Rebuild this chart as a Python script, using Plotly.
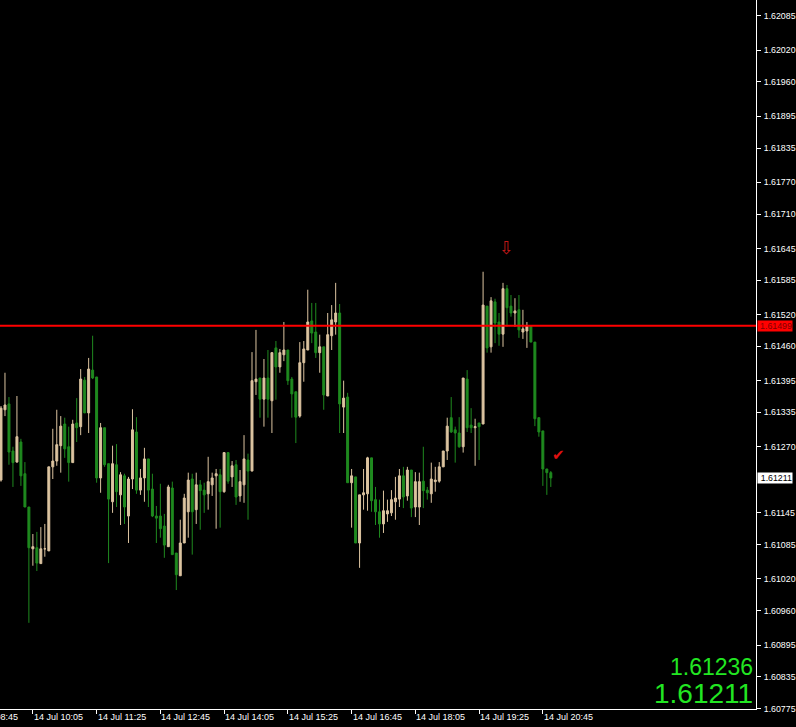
import plotly.graph_objects as go
import pandas as pd

# ---- data (GBPUSD-like M5 bars, 14 Jul) ----
start_time = "2011-07-14 09:25"
opens = [1.61207, 1.61340, 1.61351, 1.61262, 1.61241, 1.61279, 1.61219, 1.61156, 1.61077, 1.61079,
         1.61049, 1.61077, 1.61073, 1.61232, 1.61243, 1.61272, 1.61313, 1.61270, 1.61240, 1.61315,
         1.61308, 1.61396, 1.61334, 1.61415, 1.61402, 1.61211, 1.61306, 1.61238, 1.61166, 1.61236,
         1.61179, 1.61215, 1.61139, 1.61209, 1.61298, 1.61188, 1.61211, 1.61247, 1.61190, 1.61139,
         1.61139, 1.61120, 1.61081, 1.61192, 1.61069, 1.61026, 1.61088, 1.61147, 1.61209, 1.61151,
         1.61198, 1.61188, 1.61181, 1.61198, 1.61215, 1.61217, 1.61185, 1.61259, 1.61213, 1.61236,
         1.61177, 1.61198, 1.61245, 1.61224, 1.61393, 1.61400, 1.61360, 1.61400, 1.61357, 1.61457,
         1.61421, 1.61444, 1.61453, 1.61398, 1.61374, 1.61328, 1.61429, 1.61453, 1.61508, 1.61487,
         1.61448, 1.61459, 1.61366, 1.61480, 1.61506, 1.61523, 1.61345, 1.61364, 1.61202, 1.61213,
         1.61088, 1.61179, 1.61181, 1.61249, 1.61170, 1.61147, 1.61124, 1.61143, 1.61145, 1.61166,
         1.61171, 1.61215, 1.61177, 1.61226, 1.61156, 1.61156, 1.61205, 1.61188, 1.61181, 1.61204,
         1.61205, 1.61232, 1.61262, 1.61325, 1.61302, 1.61296, 1.61270, 1.61398, 1.61311, 1.61306,
         1.61315, 1.61313, 1.61536, 1.61459, 1.61544, 1.61506, 1.61483, 1.61569, 1.61536, 1.61523,
         1.61529, 1.61487, 1.61489, 1.61499, 1.61468, 1.61325, 1.61300, 1.61228, 1.61221]
highs = [1.61347, 1.61410, 1.61364, 1.61270, 1.61366, 1.61285, 1.61241, 1.61156, 1.61105, 1.61109,
         1.61118, 1.61124, 1.61232, 1.61304, 1.61340, 1.61328, 1.61325, 1.61308, 1.61321, 1.61362,
         1.61417, 1.61402, 1.61438, 1.61480, 1.61402, 1.61315, 1.61306, 1.61238, 1.61272, 1.61275,
         1.61222, 1.61219, 1.61213, 1.61341, 1.61326, 1.61228, 1.61268, 1.61247, 1.61219, 1.61158,
         1.61200, 1.61143, 1.61198, 1.61204, 1.61069, 1.61132, 1.61181, 1.61221, 1.61219, 1.61221,
         1.61207, 1.61202, 1.61251, 1.61221, 1.61228, 1.61228, 1.61259, 1.61259, 1.61243, 1.61245,
         1.61226, 1.61292, 1.61257, 1.61449, 1.61491, 1.61400, 1.61436, 1.61453, 1.61449, 1.61470,
         1.61455, 1.61506, 1.61453, 1.61402, 1.61374, 1.61468, 1.61470, 1.61567, 1.61542, 1.61542,
         1.61482, 1.61459, 1.61523, 1.61538, 1.61580, 1.61540, 1.61395, 1.61372, 1.61228, 1.61213,
         1.61179, 1.61228, 1.61251, 1.61249, 1.61194, 1.61170, 1.61187, 1.61170, 1.61188, 1.61213,
         1.61228, 1.61232, 1.61232, 1.61226, 1.61222, 1.61221, 1.61270, 1.61194, 1.61240, 1.61232,
         1.61241, 1.61262, 1.61325, 1.61364, 1.61308, 1.61326, 1.61400, 1.61415, 1.61343, 1.61323,
         1.61315, 1.61601, 1.61536, 1.61553, 1.61550, 1.61523, 1.61580, 1.61576, 1.61557, 1.61551,
         1.61557, 1.61529, 1.61506, 1.61499, 1.61468, 1.61325, 1.61300, 1.61228, 1.61224]
lows = [1.61204, 1.61328, 1.61236, 1.61194, 1.61240, 1.61196, 1.61156, 1.60937, 1.61045, 1.61035,
        1.61049, 1.61062, 1.61073, 1.61209, 1.61234, 1.61221, 1.61249, 1.61204, 1.61240, 1.61279,
        1.61292, 1.61334, 1.61296, 1.61398, 1.61202, 1.61183, 1.61232, 1.61050, 1.61145, 1.61156,
        1.61122, 1.61124, 1.61088, 1.61190, 1.61181, 1.61179, 1.61166, 1.61156, 1.61137, 1.61088,
        1.61098, 1.61060, 1.61081, 1.61066, 1.60999, 1.61026, 1.61088, 1.61098, 1.61066, 1.61124,
        1.61113, 1.61145, 1.61151, 1.61177, 1.61115, 1.61117, 1.61183, 1.61200, 1.61194, 1.61160,
        1.61166, 1.61164, 1.61132, 1.61224, 1.61368, 1.61325, 1.61308, 1.61325, 1.61296, 1.61359,
        1.61410, 1.61432, 1.61387, 1.61325, 1.61277, 1.61325, 1.61393, 1.61453, 1.61466, 1.61438,
        1.61410, 1.61340, 1.61366, 1.61453, 1.61482, 1.61296, 1.61296, 1.61202, 1.61117, 1.61088,
        1.61041, 1.61151, 1.61149, 1.61147, 1.61122, 1.61098, 1.61107, 1.61128, 1.61139, 1.61132,
        1.61156, 1.61154, 1.61168, 1.61137, 1.61137, 1.61122, 1.61154, 1.61170, 1.61164, 1.61185,
        1.61202, 1.61232, 1.61245, 1.61296, 1.61240, 1.61268, 1.61259, 1.61298, 1.61296, 1.61234,
        1.61245, 1.61313, 1.61448, 1.61448, 1.61466, 1.61461, 1.61459, 1.61497, 1.61516, 1.61497,
        1.61476, 1.61474, 1.61457, 1.61468, 1.61309, 1.61289, 1.61196, 1.61179, 1.61194]
closes = [1.61343, 1.61349, 1.61260, 1.61240, 1.61289, 1.61215, 1.61156, 1.61079, 1.61081, 1.61050,
          1.61077, 1.61077, 1.61232, 1.61243, 1.61274, 1.61309, 1.61266, 1.61240, 1.61313, 1.61306,
          1.61398, 1.61334, 1.61417, 1.61400, 1.61211, 1.61306, 1.61236, 1.61171, 1.61238, 1.61185,
          1.61217, 1.61156, 1.61209, 1.61302, 1.61188, 1.61211, 1.61247, 1.61188, 1.61139, 1.61135,
          1.61115, 1.61084, 1.61194, 1.61066, 1.61028, 1.61088, 1.61173, 1.61207, 1.61147, 1.61198,
          1.61187, 1.61179, 1.61204, 1.61211, 1.61219, 1.61185, 1.61259, 1.61205, 1.61234, 1.61175,
          1.61204, 1.61247, 1.61224, 1.61395, 1.61398, 1.61360, 1.61400, 1.61360, 1.61448, 1.61421,
          1.61448, 1.61453, 1.61395, 1.61370, 1.61326, 1.61429, 1.61455, 1.61506, 1.61485, 1.61448,
          1.61459, 1.61368, 1.61482, 1.61510, 1.61523, 1.61351, 1.61362, 1.61202, 1.61215, 1.61088,
          1.61179, 1.61183, 1.61249, 1.61168, 1.61147, 1.61124, 1.61149, 1.61149, 1.61170, 1.61173,
          1.61215, 1.61175, 1.61226, 1.61154, 1.61204, 1.61204, 1.61187, 1.61183, 1.61209, 1.61207,
          1.61232, 1.61262, 1.61309, 1.61298, 1.61296, 1.61270, 1.61400, 1.61306, 1.61306, 1.61308,
          1.61308, 1.61538, 1.61457, 1.61546, 1.61504, 1.61483, 1.61569, 1.61533, 1.61523, 1.61527,
          1.61491, 1.61493, 1.61499, 1.61468, 1.61323, 1.61298, 1.61228, 1.61221, 1.61211]

x_tick_times = ["2011-07-14 08:45", "2011-07-14 10:05", "2011-07-14 11:25", "2011-07-14 12:45",
                "2011-07-14 14:05", "2011-07-14 15:25", "2011-07-14 16:45", "2011-07-14 18:05",
                "2011-07-14 19:25", "2011-07-14 20:45"]
x_tick_labels = ["14 Jul 08:45", "14 Jul 10:05", "14 Jul 11:25", "14 Jul 12:45", "14 Jul 14:05",
                 "14 Jul 15:25", "14 Jul 16:45", "14 Jul 18:05", "14 Jul 19:25", "14 Jul 20:45"]
y_tick_values = [1.62085, 1.62020, 1.61960, 1.61895, 1.61835, 1.61770, 1.61710, 1.61645, 1.61585,
                 1.61520, 1.61460, 1.61395, 1.61335, 1.61270, 1.61145, 1.61085, 1.61020, 1.60960,
                 1.60895, 1.60835, 1.60775]
y_tick_labels = ["%.5f" % v for v in y_tick_values]

level_price = 1.61499
bid_price = 1.61211
ask_price = 1.61236
arrow_time, arrow_price = "2011-07-14 20:00", 1.61646
check_time, check_price = "2011-07-14 21:05", 1.61255
x_range = ["2011-07-14 09:23:45", "2011-07-15 01:12:30"]
y_range = [1.60774, 1.62115]

BULL = "#DCC4A0"
BEAR = "#1F8A1F"
FONT = "Liberation Sans"

times = pd.date_range(start_time, periods=len(opens), freq="5min")

fig = go.Figure()
fig.add_trace(go.Candlestick(
    x=times, open=opens, high=highs, low=lows, close=closes,
    increasing=dict(line=dict(color=BULL, width=1), fillcolor=BULL),
    decreasing=dict(line=dict(color=BEAR, width=1), fillcolor=BEAR),
    whiskerwidth=0, hoverinfo="skip", showlegend=False,
))

fig.add_shape(type="line", xref="paper", x0=0, x1=1, yref="y", y0=level_price, y1=level_price,
              line=dict(color="#FF0000", width=2))

ann = []
# x labels (left aligned at tick, MT4 style)
for t, lab in zip(x_tick_times, x_tick_labels):
    if t == x_tick_times[0]:
        ann.append(dict(x=start_time, xref="x", y=0, yref="paper", text=lab, showarrow=False,
                        xanchor="left", yanchor="top", xshift=-34, yshift=-1,
                        font=dict(family=FONT, size=9, color="white")))
    else:
        ann.append(dict(x=t, xref="x", y=0, yref="paper", text=lab, showarrow=False,
                        xanchor="left", yanchor="top", xshift=-1, yshift=-1,
                        font=dict(family=FONT, size=9, color="white")))
# price label boxes on the axis
ann.append(dict(x=1, xref="paper", y=level_price, yref="y", text="1.61499", showarrow=False,
                xanchor="left", yanchor="middle", xshift=1, width=34, align="right",
                bgcolor="#FF0000", borderpad=0,
                font=dict(family=FONT, size=8.8, color="#800000")))
ann.append(dict(x=1, xref="paper", y=bid_price, yref="y", text="1.61211", showarrow=False,
                xanchor="left", yanchor="middle", xshift=1, width=34, align="right",
                bgcolor="#FFFFFF", borderpad=0,
                font=dict(family=FONT, size=8.8, color="#000000")))
# big bid/ask numbers
ann.append(dict(x=1, xref="paper", y=0, yref="paper", text="1.61236", showarrow=False,
                xanchor="right", yanchor="middle", xshift=-1, yshift=42,
                font=dict(family=FONT, size=23, color="#22E622")))
ann.append(dict(x=1, xref="paper", y=0, yref="paper", text="1.61211", showarrow=False,
                xanchor="right", yanchor="middle", xshift=-1, yshift=16,
                font=dict(family=FONT, size=28, color="#22E622")))
# chart objects
ann.append(dict(x=arrow_time, xref="x", y=arrow_price, yref="y", text="⇩", showarrow=False,
                font=dict(family="DejaVu Sans", size=18, color="#C01818")))
ann.append(dict(x=check_time, xref="x", y=check_price, yref="y", text="✔", showarrow=False,
                font=dict(family="DejaVu Sans", size=15, color="#E01010")))

fig.update_layout(
    width=796, height=727,
    margin=dict(l=0, r=37, t=0, b=18),
    paper_bgcolor="black", plot_bgcolor="black",
    showlegend=False, boxgap=0.3,
    annotations=ann,
    xaxis=dict(type="date", range=x_range, rangeslider=dict(visible=False),
               showgrid=False, zeroline=False, showline=True, linecolor="white", linewidth=1,
               tickvals=x_tick_times[1:], showticklabels=False,
               ticks="outside", ticklen=4, tickcolor="white"),
    yaxis=dict(side="right", range=y_range, showgrid=False, zeroline=False,
               showline=True, linecolor="white", linewidth=1,
               tickvals=y_tick_values, ticktext=y_tick_labels,
               ticks="outside", ticklen=4, tickcolor="white", ticklabelstandoff=1,
               tickfont=dict(family=FONT, size=8.8, color="white")),
)

fig.write_html(
    "out.html",
    config={"displayModeBar": False},
    post_script="document.body.style.margin='0';document.body.style.background='black';"
                "document.body.style.overflow='hidden';",
)
